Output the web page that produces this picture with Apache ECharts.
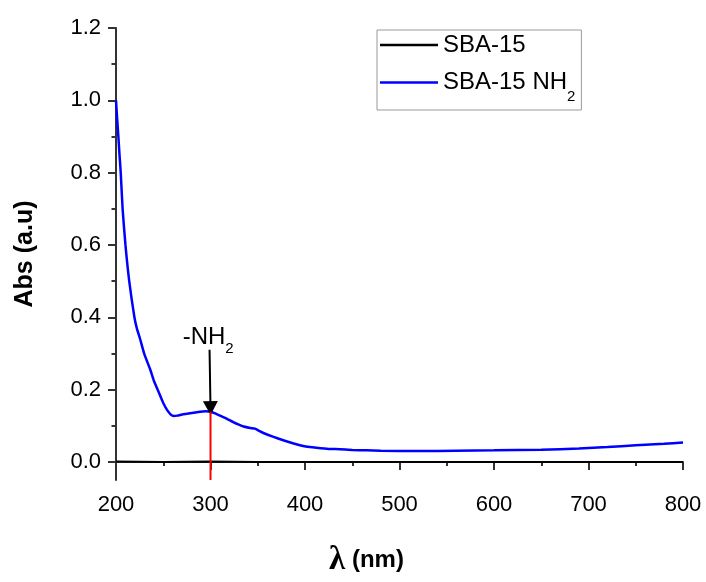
<!DOCTYPE html>
<html><head><meta charset="utf-8">
<script src="https://cdn.jsdelivr.net/npm/echarts@6/dist/echarts.min.js"></script>
<style>html,body{margin:0;padding:0;background:#fff}#c{width:706px;height:582px}</style>
</head><body><div id="c"></div>
<script>
const xTicks = [200, 300, 400, 500, 600, 700, 800];
const yTicks = [0.0, 0.2, 0.4, 0.6, 0.8, 1.0, 1.2];
const yMinorTicks = [0.1, 0.3, 0.5, 0.7, 0.9, 1.1];
const seriesNames = ['SBA-15', 'SBA-15 NH2'];
const sba15 = [[200,0.001],[250,0.000],[300,0.001],[350,0.000],[400,0.000],[450,0.000],[500,0.000],[550,0.000],[600,0.000],[650,0.000],[700,0.000],[750,0.000],[800,0.000]];
const sba15nh2 = [[200,1.0],[201.2,0.95],[202.5,0.9],[203.7,0.85],[205,0.8],[207,0.7],[210,0.6],[214,0.5],[219.5,0.4],[222,0.37],[225.5,0.34],[230,0.298],[236,0.257],[240,0.225],[245,0.194],[250,0.163],[254,0.144],[258,0.131],[261,0.127],[265,0.128],[270,0.131],[275,0.133],[282,0.136],[289,0.139],[295,0.14],[300,0.139],[305,0.134],[310,0.128],[317,0.12],[324,0.11],[330,0.103],[335,0.098],[342,0.094],[347,0.092],[352,0.085],[356,0.08],[366,0.07],[377,0.06],[388,0.051],[398,0.044],[405,0.041],[412,0.039],[425,0.036],[437,0.035],[450,0.033],[465,0.032],[480,0.031],[520,0.030],[560,0.031],[600,0.032],[650,0.034],[690,0.037],[720,0.041],[750,0.046],[780,0.050],[800,0.054]];
const peakLine = [[300,-0.05],[300,0.139]];
const arrowFrom = [299.0, 0.31];
const arrowTo = [300, 0.149];
const annoPoint = [[297.5, 0.345]];

const FONT = '"Liberation Sans", Arial, sans-serif';
const chart = echarts.init(document.getElementById('c'), null, {renderer:'canvas'});
const axisColor = '#333';
chart.setOption({
  animation: false,
  backgroundColor: '#fff',
  grid: {left: 116, right: 23, top: 28, bottom: 95},
  legend: {
    data: seriesNames,
    orient: 'vertical',
    left: 377, top: 30,
    padding: [0, 6, 6, 3],
    itemWidth: 58, itemHeight: 2.5, itemGap: 1,
    icon: 'rect',
    borderColor: '#999', borderWidth: 1,
    formatter: function (n) { return n === 'SBA-15 NH2' ? '{a|SBA-15 NH}{s|2}' : '{a|' + n + '}'; },
    textStyle: {
      fontFamily: FONT, color: '#000', fontSize: 24, lineHeight: 30,
      rich: {
        a: {fontFamily: FONT, fontSize: 24, color: '#000', lineHeight: 30},
        s: {fontFamily: FONT, fontSize: 15, color: '#000', lineHeight: 2, padding: [28, 0, 0, 0]}
      }
    }
  },
  xAxis: {
    type: 'value', min: 200, max: 800, interval: 100,
    name: '{l|λ}{n| (nm)}', nameLocation: 'middle', nameGap: 64,
    nameTextStyle: {padding: [0, 66, 0, 0], rich: {
      l: {fontFamily: '"Liberation Serif", serif', fontSize: 33, fontWeight: 'bold', color: '#000'},
      n: {fontFamily: FONT, fontSize: 24, fontWeight: 'bold', color: '#000'}
    }},
    axisLine: {lineStyle: {color: axisColor, width: 2}},
    axisTick: {inside: false, length: 8, lineStyle: {color: axisColor, width: 2}},
    minorTick: {show: true, splitNumber: 2, length: 4, lineStyle: {color: axisColor, width: 2}},
    splitLine: {show: false},
    axisLabel: {fontFamily: FONT, fontSize: 22, color: '#000', margin: 14, formatter: function (v) { return String(v); }}
  },
  yAxis: [{
    type: 'value', min: -0.05, max: 1.2,
    name: 'Abs (a.u)', nameLocation: 'middle', nameGap: 78, nameRotate: 90,
    nameTextStyle: {fontFamily: FONT, fontSize: 25, fontWeight: 'bold', color: '#000'},
    axisLine: {show: true, lineStyle: {color: axisColor, width: 2}},
    axisTick: {show: true, inside: false, length: 8, customValues: yTicks, lineStyle: {color: axisColor, width: 2}},
    axisLabel: {fontFamily: FONT, fontSize: 22, color: '#000', margin: 15, customValues: yTicks, formatter: function (v) { return v.toFixed(1); }},
    splitLine: {show: false}
  }, {
    type: 'value', min: -0.05, max: 1.2, position: 'left',
    axisLine: {show: false},
    axisTick: {show: true, inside: false, length: 4.5, customValues: yMinorTicks, lineStyle: {color: axisColor, width: 2}},
    axisLabel: {show: false},
    splitLine: {show: false}
  }],
  series: [
    {name: 'SBA-15', type: 'line', data: sba15, showSymbol: false, symbol: 'none', lineStyle: {color: '#000', width: 2}, itemStyle: {color: '#000'}, z: 3},
    {name: 'SBA-15 NH2', type: 'line', data: sba15nh2, showSymbol: false, symbol: 'none', smooth: 0.2, lineStyle: {color: '#0000ff', width: 2.5}, itemStyle: {color: '#0000ff'}, z: 4},
    {name: 'peak', type: 'line', data: peakLine, symbol: 'none', lineStyle: {color: '#ff0000', width: 2}, z: 5,
     markLine: {silent: true, symbol: ['none', 'triangle'], symbolSize: [15, 14], animation: false,
       lineStyle: {color: '#000', width: 2, type: 'solid', opacity: 1}, itemStyle: {color: '#000'}, label: {show: false},
       data: [[{coord: arrowFrom}, {coord: arrowTo}]]}},
    {name: 'anno', type: 'scatter', data: annoPoint, symbolSize: 0, z: 6, itemStyle: {opacity: 1, color: '#000'},
     label: {show: true, position: 'inside', color: '#000', opacity: 1, formatter: '{a|-NH}{s|2}',
       rich: {a: {fontFamily: FONT, fontSize: 24, color: '#000', lineHeight: 30},
              s: {fontFamily: FONT, fontSize: 15, color: '#000', lineHeight: 2, padding: [26, 0, 2, 0]}}}}
  ]
});
</script></body></html>
